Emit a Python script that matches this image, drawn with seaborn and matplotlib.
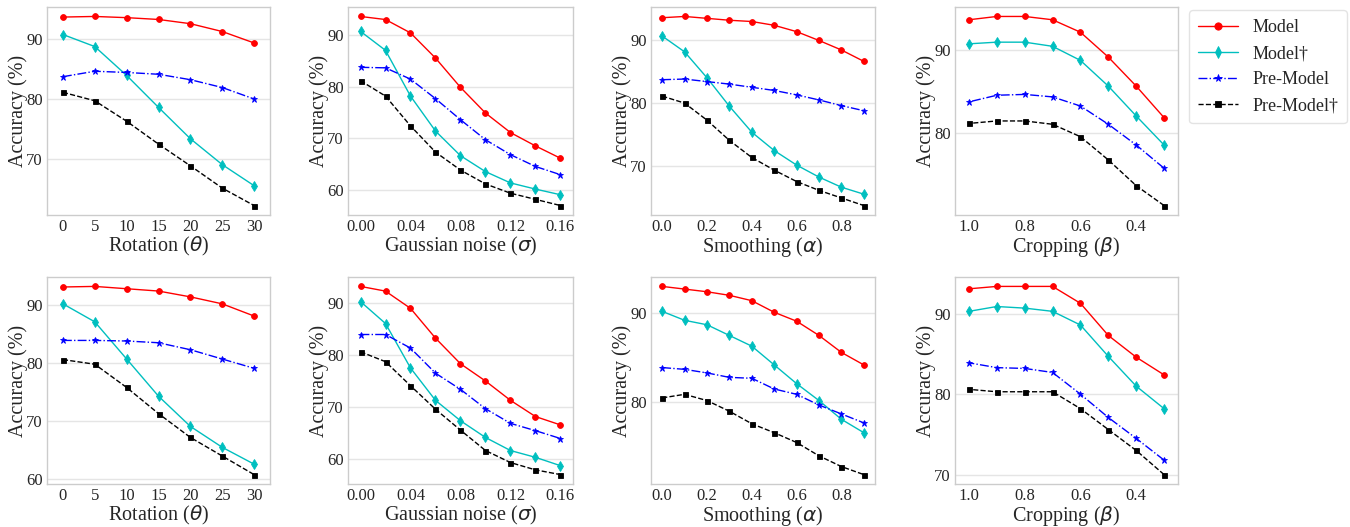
import numpy as np
import pandas as pd
import matplotlib
matplotlib.use("Agg")
import matplotlib.pyplot as plt
from matplotlib.ticker import MultipleLocator, FixedLocator, FormatStrFormatter
import seaborn as sns

# ---------------- data ----------------
rot_x = [0, 5, 10, 15, 20, 25, 30]
noise_x = [0.00, 0.02, 0.04, 0.06, 0.08, 0.10, 0.12, 0.14, 0.16]
smooth_x = [0.0, 0.1, 0.2, 0.3, 0.4, 0.5, 0.6, 0.7, 0.8, 0.9]
crop_x = [1.0, 0.9, 0.8, 0.7, 0.6, 0.5, 0.4, 0.3]

series_names = ["Model", "Model\u2020", "Pre-Model", "Pre-Model\u2020"]

# Row 1
r1_rot_model = [93.6, 93.7, 93.5, 93.2, 92.5, 91.2, 89.3]
r1_rot_modeld = [90.7, 88.7, 83.9, 78.6, 73.4, 69.1, 65.6]
r1_rot_pre = [83.7, 84.6, 84.4, 84.1, 83.2, 81.9, 80.0]
r1_rot_pred = [81.1, 79.7, 76.3, 72.5, 68.9, 65.2, 62.3]

r1_noise_model = [93.7, 93.1, 90.5, 85.6, 79.9, 74.9, 71.1, 68.5, 66.1]
r1_noise_modeld = [90.8, 87.1, 78.2, 71.4, 66.6, 63.5, 61.3, 60.1, 59.0]
r1_noise_pre = [83.8, 83.7, 81.5, 77.7, 73.6, 69.7, 66.8, 64.5, 62.9]
r1_noise_pred = [81.2, 78.2, 72.4, 67.3, 63.8, 61.1, 59.3, 58.1, 56.9]

r1_smooth_model = [93.5, 93.7, 93.4, 93.1, 92.9, 92.3, 91.3, 89.9, 88.4, 86.6]
r1_smooth_modeld = [90.6, 88.1, 84.0, 79.5, 75.4, 72.5, 70.2, 68.3, 66.7, 65.6]
r1_smooth_pre = [83.7, 83.8, 83.4, 83.0, 82.5, 82.0, 81.3, 80.5, 79.6, 78.8]
r1_smooth_pred = [81.1, 80.0, 77.3, 74.1, 71.4, 69.4, 67.6, 66.2, 65.0, 63.8]

r1_crop_model = [93.6, 94.0, 94.0, 93.6, 92.1, 89.1, 85.6, 81.8]
r1_crop_modeld = [90.7, 90.9, 90.9, 90.4, 88.7, 85.6, 82.0, 78.5]
r1_crop_pre = [83.7, 84.5, 84.6, 84.3, 83.2, 81.0, 78.5, 75.7]
r1_crop_pred = [81.1, 81.4, 81.4, 81.0, 79.5, 76.7, 73.6, 71.2]

# Row 2
r2_rot_model = [93.1, 93.2, 92.8, 92.4, 91.4, 90.2, 88.1]
r2_rot_modeld = [90.2, 87.1, 80.7, 74.3, 69.1, 65.5, 62.6]
r2_rot_pre = [83.9, 83.9, 83.8, 83.5, 82.3, 80.7, 79.1]
r2_rot_pred = [80.6, 79.8, 75.8, 71.3, 67.2, 64.0, 60.8]

r2_noise_model = [93.1, 92.2, 88.9, 83.2, 78.3, 75.0, 71.3, 68.2, 66.6]
r2_noise_modeld = [90.2, 86.0, 77.5, 71.3, 67.4, 64.2, 61.7, 60.4, 58.8]
r2_noise_pre = [83.9, 83.9, 81.3, 76.5, 73.4, 69.7, 66.9, 65.5, 64.0]
r2_noise_pred = [80.6, 78.7, 74.1, 69.6, 65.6, 61.7, 59.4, 58.0, 57.1]

r2_smooth_model = [93.0, 92.7, 92.4, 92.0, 91.4, 90.1, 89.1, 87.5, 85.6, 84.2]
r2_smooth_modeld = [90.2, 89.2, 88.7, 87.5, 86.3, 84.2, 82.1, 80.2, 78.1, 76.6]
r2_smooth_pre = [83.9, 83.7, 83.3, 82.8, 82.7, 81.5, 80.9, 79.7, 78.7, 77.7]
r2_smooth_pred = [80.5, 80.9, 80.2, 79.0, 77.6, 76.6, 75.5, 74.0, 72.8, 71.9]

r2_crop_model = [93.1, 93.4, 93.4, 93.4, 91.3, 87.3, 84.6, 82.4]
r2_crop_modeld = [90.3, 90.9, 90.7, 90.3, 88.6, 84.7, 81.0, 78.2]
r2_crop_pre = [83.9, 83.3, 83.2, 82.7, 80.0, 77.1, 74.5, 71.8]
r2_crop_pred = [80.6, 80.3, 80.3, 80.3, 78.2, 75.6, 73.0, 70.0]

xlabels = [r"Rotation ($\theta$)", r"Gaussian noise ($\sigma$)",
           r"Smoothing ($\alpha$)", r"Cropping ($\beta$)"]

# ---------------- style ----------------
sns.set_style("whitegrid")
plt.rcParams["font.family"] = ["Liberation Serif", "DejaVu Serif"]
plt.rcParams["mathtext.fontset"] = "dejavusans"

styles = [
    dict(color="r", marker="o", linestyle="-", markersize=4.2),
    dict(color="c", marker="d", linestyle="-", markersize=4.6),
    dict(color="b", marker="*", linestyle="-.", markersize=4.5),
    dict(color="k", marker="s", linestyle="--", markersize=3.6),
]

fig = plt.figure(figsize=(13.5, 5.27), dpi=100)
W, H = 1350, 527

col_l = [47, 348, 651, 955]
col_w = [223, 225, 224, 223]
row_t = [7, 277]
row_b = [215, 484]

panels = [
    [(rot_x, [r1_rot_model, r1_rot_modeld, r1_rot_pre, r1_rot_pred]),
     (noise_x, [r1_noise_model, r1_noise_modeld, r1_noise_pre, r1_noise_pred]),
     (smooth_x, [r1_smooth_model, r1_smooth_modeld, r1_smooth_pre, r1_smooth_pred]),
     (crop_x, [r1_crop_model, r1_crop_modeld, r1_crop_pre, r1_crop_pred])],
    [(rot_x, [r2_rot_model, r2_rot_modeld, r2_rot_pre, r2_rot_pred]),
     (noise_x, [r2_noise_model, r2_noise_modeld, r2_noise_pre, r2_noise_pred]),
     (smooth_x, [r2_smooth_model, r2_smooth_modeld, r2_smooth_pre, r2_smooth_pred]),
     (crop_x, [r2_crop_model, r2_crop_modeld, r2_crop_pre, r2_crop_pred])],
]

xlims = [(-2.5, 32.5), (-0.010, 0.170), (-0.05, 0.95), (1.05, 0.25)]
xticks = [rot_x, [0.0, 0.04, 0.08, 0.12, 0.16], [0.0, 0.2, 0.4, 0.6, 0.8], [1.0, 0.8, 0.6, 0.4]]
xfmts = ["%d", "%.2f", "%.1f", "%.1f"]

handles = None
for r in range(2):
    for c in range(4):
        ax = fig.add_axes([col_l[c] / W, 1 - row_b[r] / H, col_w[c] / W,
                           (row_b[r] - row_t[r]) / H])
        xs, ys_list = panels[r][c]
        for name, ys, st in zip(series_names, ys_list, styles):
            df = pd.DataFrame({"x": xs, "y": ys})
            sns.lineplot(data=df, x="x", y="y", ax=ax, label=name,
                         linewidth=1.0, color=st["color"], marker=st["marker"],
                         linestyle=st["linestyle"], markersize=st["markersize"],
                         markeredgewidth=0.6, markeredgecolor=st["color"])
        if handles is None:
            handles, labels = ax.get_legend_handles_labels()
        ax.get_legend().remove()
        ax.set_xlim(*xlims[c])
        ax.xaxis.set_major_locator(FixedLocator(xticks[c]))
        ax.xaxis.set_major_formatter(FormatStrFormatter(xfmts[c]))
        ax.yaxis.set_major_locator(MultipleLocator(10))
        ax.yaxis.set_major_formatter(FormatStrFormatter("%d"))
        ax.grid(axis="x", visible=False)
        ax.grid(axis="y", color="#e5e5e5", linewidth=1.0)
        for sp in ax.spines.values():
            sp.set_color("#cccccc")
            sp.set_linewidth(1.0)
        ax.tick_params(axis="both", labelsize=12, length=0, pad=3)
        ax.set_xlabel(xlabels[c], fontsize=14.5, labelpad=0)
        ax.set_ylabel("Accuracy (%)", fontsize=14.5, labelpad=-1)

leg = fig.legend(handles, labels, loc="upper left",
                 bbox_to_anchor=(1189 / W, 1 - 10 / H), fontsize=13,
                 markerscale=1.25, frameon=True, handlelength=2.2,
                 borderpad=0.5, labelspacing=0.5, handletextpad=0.8,
                 borderaxespad=0.0)
leg.get_frame().set_edgecolor("#dddddd")
leg.get_frame().set_linewidth(1.0)

fig.savefig("out.png", dpi=100)
